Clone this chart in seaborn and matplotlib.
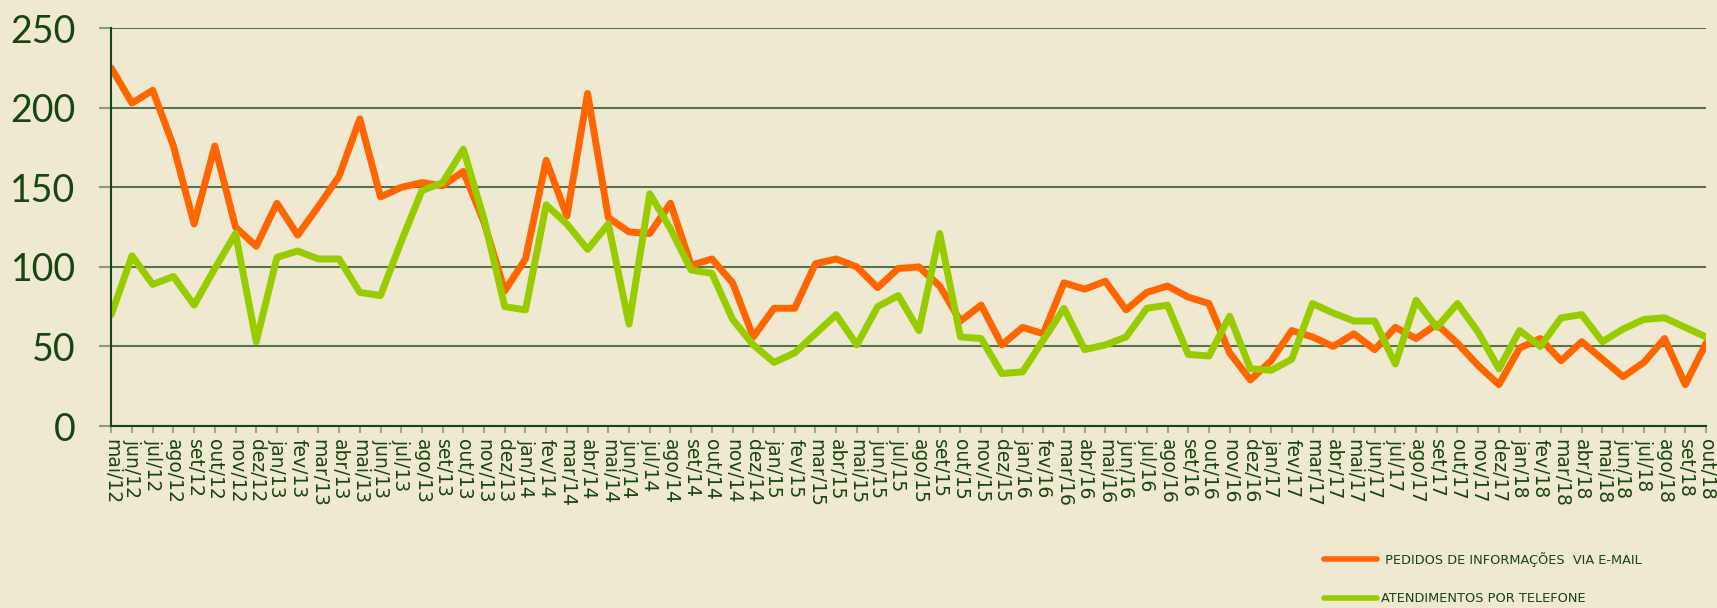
import numpy as np
import pandas as pd
import matplotlib
matplotlib.use("Agg")
import matplotlib.pyplot as plt
import seaborn as sns

# Monthly series, May 2012 through October 2018
meses = ["jan", "fev", "mar", "abr", "mai", "jun", "jul", "ago", "set", "out", "nov", "dez"]
rotulos = []
for ano in range(12, 19):
    for m, nome in enumerate(meses, start=1):
        if (ano == 12 and m < 5) or (ano == 18 and m > 10):
            continue
        rotulos.append(f"{nome}/{ano}")

email = [225, 203, 211, 176, 127, 176, 125, 113, 140, 120, 138, 157, 193, 144, 150, 153,
         151, 160, 128, 85, 105, 167, 132, 209, 131, 122, 121, 140, 101, 105, 90, 56,
         74, 74, 102, 105, 100, 87, 99, 100, 88, 66, 76, 51, 62, 58, 90, 86,
         91, 73, 84, 88, 81, 77, 46, 29, 41, 60, 56, 50, 58, 48, 62, 55,
         64, 52, 38, 26, 49, 55, 41, 53, 42, 31, 40, 55, 26, 52]

telefone = [70, 107, 89, 94, 76, 99, 121, 53, 106, 110, 105, 105, 84, 82, 116, 148,
            153, 174, 130, 75, 73, 139, 127, 111, 127, 64, 146, 124, 98, 96, 67, 51,
            40, 46, 58, 70, 51, 75, 82, 60, 121, 56, 55, 33, 34, 54, 74, 48,
            51, 56, 74, 76, 45, 44, 69, 36, 35, 42, 77, 71, 66, 66, 39, 79,
            62, 77, 59, 36, 60, 50, 68, 70, 53, 61, 67, 68, 62, 56]

serie_email = " PEDIDOS DE INFORMAÇÕES  VIA E-MAIL"
serie_tel = "ATENDIMENTOS POR TELEFONE"

df = pd.DataFrame({
    "pos": np.concatenate([np.arange(len(email)), np.arange(len(telefone))]),
    "valor": email + telefone,
    "serie": [serie_email] * len(email) + [serie_tel] * len(telefone),
})

fundo = "#EFE9D1"
verde_escuro = "#1A4410"
grade = "#56744A"

sns.set_theme(style="white")
plt.rcParams["font.family"] = ["DejaVu Sans"]

fig = plt.figure(figsize=(17.17, 6.08), dpi=100, facecolor=fundo)
ax = fig.add_axes([0.0648, 0.2993, 0.9288, 0.6542], facecolor=fundo)

sns.lineplot(data=df, x="pos", y="valor", hue="serie",
             palette={serie_email: "#FF6600", serie_tel: "#99CC00"},
             linewidth=5, sort=False, ax=ax,
             solid_joinstyle="round", solid_capstyle="round")

ax.set_xlim(0, len(rotulos) - 1)
ax.set_ylim(0, 250)
ax.set_yticks([0, 50, 100, 150, 200, 250])
ax.yaxis.grid(True, color=grade, linewidth=1.5)
ax.set_axisbelow(True)
ax.set_xticks(np.arange(len(rotulos)))
ax.set_xticklabels(rotulos, rotation=270, ha="center", va="top",
                   fontsize=13.5, color=verde_escuro)
ax.tick_params(axis="y", labelsize=27, labelcolor=verde_escuro, length=8.6,
               width=1.5, color="#8A9E7A", pad=17, left=True)
ax.tick_params(axis="x", length=5, width=1.5, color="#9AAA8A", pad=4, bottom=True)
for t in ax.get_yticklabels():
    t.set_fontfamily(["Lato", "DejaVu Sans"])
ax.set_xlabel("")
ax.set_ylabel("")

for lado in ["top", "right"]:
    ax.spines[lado].set_visible(False)
for lado in ["left", "bottom"]:
    ax.spines[lado].set_color(verde_escuro)
    ax.spines[lado].set_linewidth(1.5)

handles, labels = ax.get_legend_handles_labels()
for h in handles:
    h.set_linewidth(4)
    h.set_solid_capstyle("round")
ax.legend(handles, labels, loc="upper left", bbox_to_anchor=(1324 / 1717, 1 - 552 / 608),
          bbox_transform=fig.transFigure, frameon=False, fontsize=9.3,
          labelcolor=verde_escuro, handlelength=4.1, handletextpad=0.35,
          labelspacing=1.95, borderpad=0, borderaxespad=0)

fig.savefig("out.png", dpi=100, facecolor=fundo)
